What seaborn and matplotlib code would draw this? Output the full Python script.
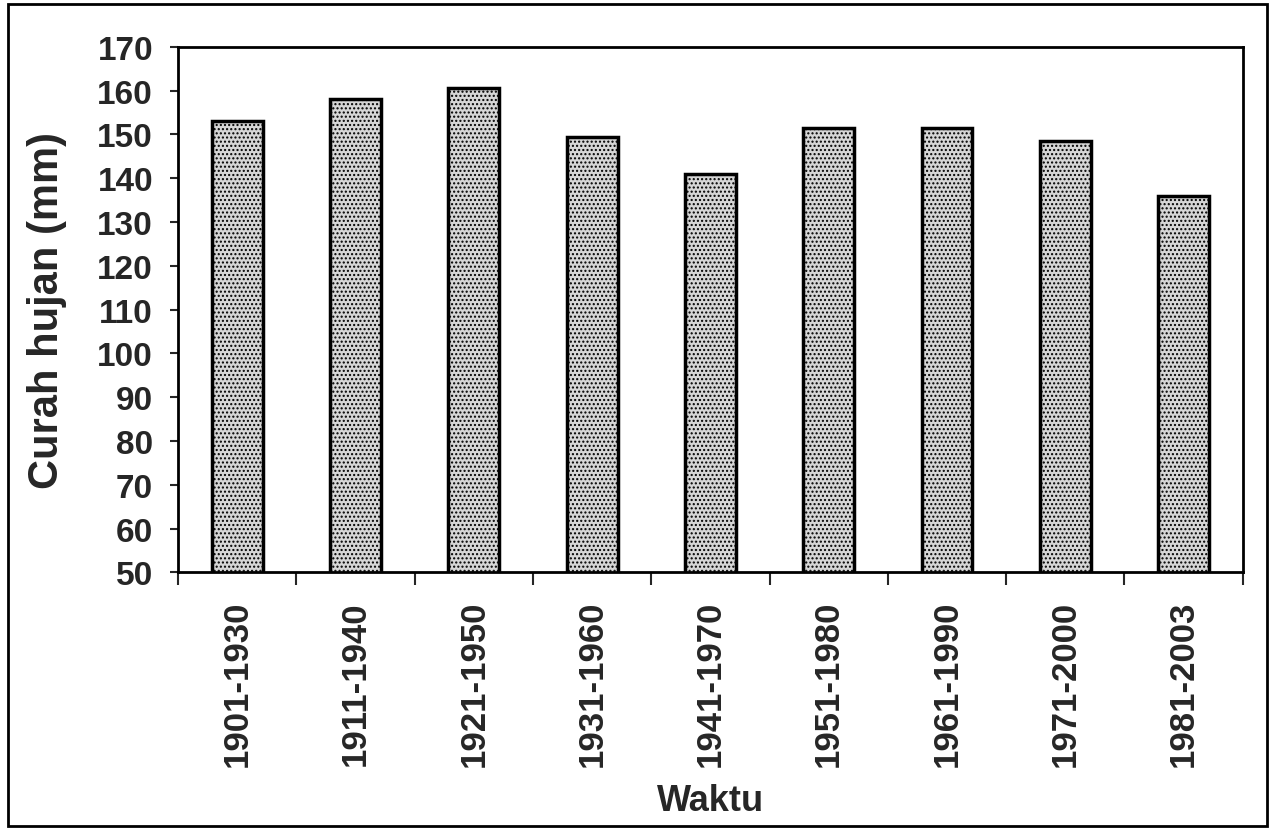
import matplotlib
matplotlib.use("Agg")
import matplotlib.pyplot as plt
import seaborn as sns
import numpy as np
import pandas as pd
from matplotlib.patches import Rectangle

# data
periode = ["1901-1930", "1911-1940", "1921-1950", "1931-1960", "1941-1970",
           "1951-1980", "1961-1990", "1971-2000", "1981-2003"]
curah_hujan = [153, 158, 160.5, 149.5, 141, 151.5, 151.5, 148.5, 136]

df = pd.DataFrame({"Waktu": periode, "Curah": curah_hujan})

sns.set_style("white")
plt.rcParams["font.family"] = ["Liberation Sans", "DejaVu Sans"]
plt.rcParams["font.weight"] = "bold"
plt.rcParams["hatch.color"] = "#5a5a5a"
plt.rcParams["hatch.linewidth"] = 1.0

fig = plt.figure(figsize=(12.72, 8.37), dpi=100)
ax = fig.add_axes([0.140, 0.315, 0.837, 0.628])

sns.barplot(data=df, x="Waktu", y="Curah", ax=ax, color="#d6d6d6",
            width=0.43, edgecolor="black", linewidth=2.5)
for p in ax.patches:
    p.set_hatch("....")
    p.set_edgecolor("black")

ax.set_ylim(50, 170)
ax.set_yticks(np.arange(50, 171, 10))
ax.set_xlim(-0.5, len(periode) - 0.5)

ax.tick_params(axis="y", labelsize=24, length=6, width=1.5, direction="out",
               left=True, pad=12)
ax.tick_params(axis="x", which="major", labelsize=25, length=0, pad=20,
               labelrotation=90)
ax.set_xticks(np.arange(-0.5, len(periode)), minor=True)
ax.tick_params(axis="x", which="minor", length=9, width=1.5, direction="out",
               bottom=True)
for lab in ax.get_xticklabels() + ax.get_yticklabels():
    lab.set_fontweight("bold")

for s in ax.spines.values():
    s.set_visible(True)
    s.set_color("black")
    s.set_linewidth(2)

ax.set_ylabel("Curah hujan (mm)", fontsize=30, fontweight="bold", labelpad=22)
ax.set_xlabel("Waktu", fontsize=26, fontweight="bold", labelpad=12)

# outer frame of the scanned figure
fig.patches.append(Rectangle((0.006, 0.012), 0.990, 0.982, transform=fig.transFigure,
                             fill=False, edgecolor="black", linewidth=2))

fig.savefig("out.png", dpi=100)
